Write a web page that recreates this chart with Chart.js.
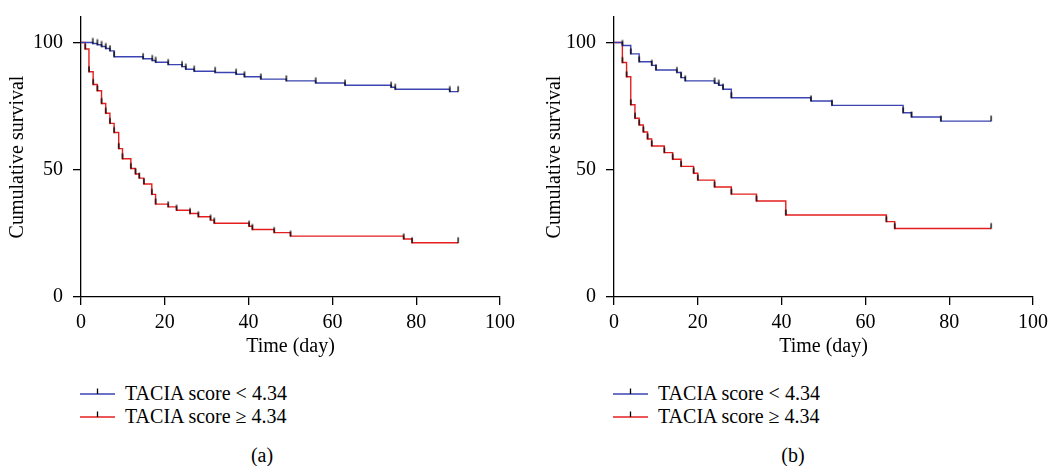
<!DOCTYPE html>
<html>
<head>
<meta charset="utf-8">
<script src="https://cdn.jsdelivr.net/npm/chart.js@4.4.1/dist/chart.umd.min.js"></script>
<style>
body{margin:0;background:#fff;overflow:hidden;}
#wrap{position:relative;width:1048px;height:466px;overflow:hidden;font-family:"Liberation Serif",serif;color:#000;}
#wrap canvas{position:absolute;top:0;}
.lg{position:absolute;font-size:20px;line-height:23px;white-space:nowrap;}
.sw{position:absolute;width:36px;height:10px;}
.cap{position:absolute;font-size:20px;line-height:23px;transform:translateX(-50%);}
</style>
</head>
<body>
<div id="wrap">
  <canvas id="chartA" width="524" height="360" style="left:0;width:524px;height:360px"></canvas>
  <canvas id="chartB" width="540" height="360" style="left:524px;width:540px;height:360px"></canvas>

  <svg class="sw" style="left:80px;top:386px"><line x1="0" y1="8" x2="35" y2="8" stroke="#3b44b0" stroke-width="1.5"/><line x1="17.5" y1="2.5" x2="17.5" y2="8" stroke="#000" stroke-width="1.3"/></svg>
  <div class="lg" style="left:125px;top:382px">TACIA score &lt; 4.34</div>
  <svg class="sw" style="left:80px;top:409px"><line x1="0" y1="8" x2="35" y2="8" stroke="#e41e1e" stroke-width="1.5"/><line x1="17.5" y1="2.5" x2="17.5" y2="8" stroke="#000" stroke-width="1.3"/></svg>
  <div class="lg" style="left:125px;top:405px">TACIA score ≥ 4.34</div>
  <div class="cap" style="left:262px;top:444px">(a)</div>

  <svg class="sw" style="left:613px;top:386px"><line x1="0" y1="8" x2="35" y2="8" stroke="#3b44b0" stroke-width="1.5"/><line x1="17.5" y1="2.5" x2="17.5" y2="8" stroke="#000" stroke-width="1.3"/></svg>
  <div class="lg" style="left:658px;top:382px">TACIA score &lt; 4.34</div>
  <svg class="sw" style="left:613px;top:409px"><line x1="0" y1="8" x2="35" y2="8" stroke="#e41e1e" stroke-width="1.5"/><line x1="17.5" y1="2.5" x2="17.5" y2="8" stroke="#000" stroke-width="1.3"/></svg>
  <div class="lg" style="left:658px;top:405px">TACIA score ≥ 4.34</div>
  <div class="cap" style="left:793px;top:444px">(b)</div>
</div>

<script>
// tick labels
const xTicks = [0, 20, 40, 60, 80, 100];
const yTicks = [0, 50, 100];

// (a) TACIA score < 4.34
const daysA1 = [0, 2.8, 3.9, 4.9, 5.9, 6.9, 7.9, 14.8, 17, 17.8, 20.8, 24.1, 25, 27, 32, 37, 39, 42.9, 49, 56, 63, 74, 75, 88, 90];
const survA1 = [100, 99.6, 99.1, 98.4, 97.6, 96.7, 94.4, 93.6, 92.9, 92.2, 91.3, 90.5, 89.5, 88.7, 88.2, 87.5, 86.5, 85.6, 84.9, 84.1, 83.2, 82.4, 81.6, 80.7, 80.7];
// (a) TACIA score >= 4.34
const daysA2 = [0, 1, 1.9, 2.9, 3.9, 4.9, 5.9, 6.9, 7.9, 9, 9.9, 11.9, 13, 13.9, 15, 16.9, 17.8, 20.8, 22.8, 26, 28, 30.9, 31.8, 40.1, 40.9, 46.1, 50, 77, 79, 90];
const survA2 = [100, 97.4, 88.5, 83.5, 81, 76, 72.2, 68.2, 64.6, 58.3, 54.3, 50.5, 48.3, 46.7, 44.4, 40.3, 36.5, 35.4, 34.1, 32.8, 31.5, 30.2, 29.0, 27.8, 26.5, 25.3, 23.9, 22.8, 21.3, 21.3];

// (b) TACIA score < 4.34
const daysB1 = [0, 2, 4, 6, 9, 10, 15, 16, 17, 24, 25, 26, 28, 47, 52, 69, 71, 78, 90];
const survB1 = [100, 98.8, 95.5, 92.4, 91.0, 89.2, 88.2, 86.2, 84.9, 84.0, 83.2, 81.6, 78.3, 77, 75.3, 72.4, 70.7, 69.1, 69.1];
// (b) TACIA score >= 4.34
const daysB2 = [0, 2, 3, 4, 5, 6, 7, 8, 9, 12, 14, 16, 19, 20, 24, 28, 34, 41, 65, 67, 90];
const survB2 = [100, 92.1, 86.5, 75.5, 70.2, 67.6, 64.8, 62.1, 59.3, 56.7, 54.1, 51.3, 48.6, 45.9, 43.2, 40.4, 37.7, 32.2, 29.6, 26.9, 26.9];

const blue = '#3b44b0';
const red = '#e41e1e';
const font = {family: '"Liberation Serif", serif', size: 20};

// censor mark: short black stroke going up from the point
const censor = document.createElement('canvas');
censor.width = 4;
censor.height = 14;
const cx = censor.getContext('2d');
cx.fillStyle = '#000';
cx.fillRect(1.4, 1.5, 1.3, 5.8);

function curve(days, surv, color) {
  return {
    data: days.map((d, i) => ({x: d, y: surv[i]})),
    borderColor: color,
    borderWidth: 1.4,
    stepped: true,
    fill: false,
    pointStyle: censor,
    pointRadius: ctx => ctx.dataIndex === 0 ? 0 : 3,
    pointHoverRadius: 0
  };
}

function survChart(id, low, high, axisW, padRight, titleGap) {
  return new Chart(document.getElementById(id), {
    type: 'line',
    data: {datasets: [curve(low[0], low[1], blue), curve(high[0], high[1], red)]},
    options: {
      responsive: false,
      animation: false,
      events: [],
      layout: {padding: {top: 17, right: padRight, left: 0, bottom: 0}},
      plugins: {legend: {display: false}, tooltip: {enabled: false}},
      scales: {
        x: {
          type: 'linear', min: 0, max: 100,
          afterBuildTicks: s => { s.ticks = xTicks.map(v => ({value: v})); },
          afterFit: s => { s.height = 63; },
          grid: {drawOnChartArea: false, tickLength: 8, color: '#000', lineWidth: 1.3},
          border: {color: '#000', width: 1.3},
          ticks: {padding: 6, color: '#000', font: font, maxRotation: 0, autoSkip: false},
          title: {display: true, text: 'Time (day)', color: '#000', font: font, padding: {top: 0, bottom: 1}}
        },
        y: {
          type: 'linear', min: 0, max: 110,
          afterBuildTicks: s => { s.ticks = yTicks.map(v => ({value: v})); },
          afterFit: s => { s.width = axisW; s.paddingTop = 0; s.paddingBottom = 0; },
          grid: {drawOnChartArea: false, tickLength: 8, color: '#000', lineWidth: 1.3},
          border: {color: '#000', width: 1.3},
          ticks: {padding: 10, color: '#000', font: font},
          title: {display: true, text: 'Cumulative survival', color: '#000', font: font, padding: {top: titleGap, bottom: 0}}
        }
      }
    }
  });
}

survChart('chartA', [daysA1, survA1], [daysA2, survA2], 81, 24, 6);
survChart('chartB', [daysB1, survB1], [daysB2, survB2], 90, 31, 19);
</script>
</body>
</html>
